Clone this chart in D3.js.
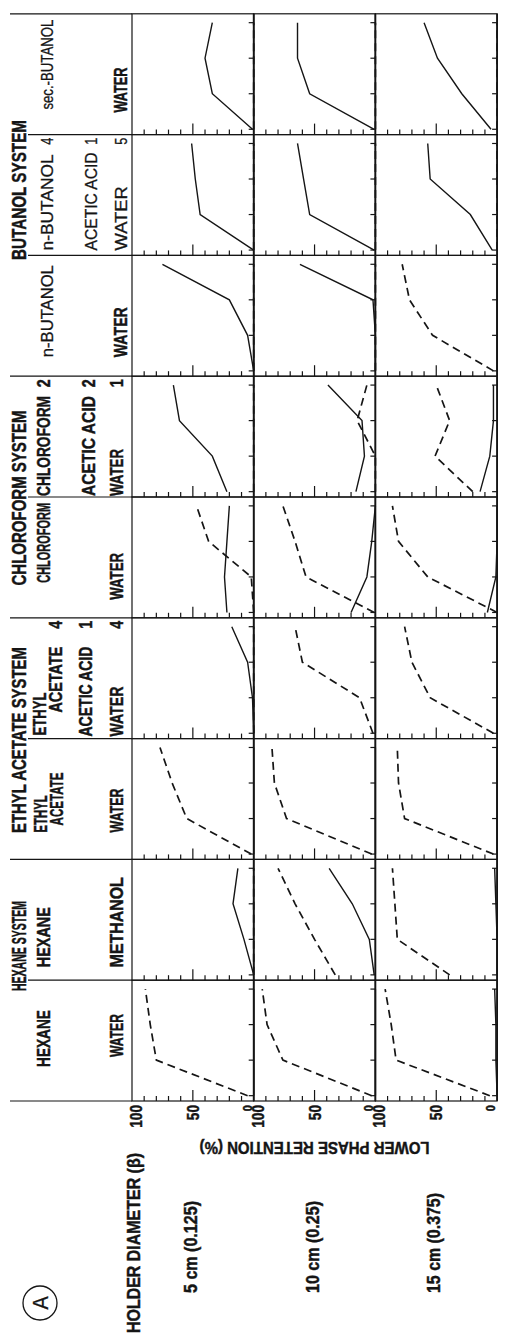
<!DOCTYPE html>
<html>
<head>
<meta charset="utf-8">
<script src="https://cdn.jsdelivr.net/npm/d3@7"></script>
<style>
  body { margin: 0; background: #fff; }
  text { font-family: "Liberation Sans", Arial, sans-serif; fill: #151515; }
</style>
</head>
<body>
<svg id="fig"></svg>
<script>
// x values: revolution speed at which retention was measured
const speeds = [200, 400, 600, 800];
const holderLabels = ["5 cm (0.125)", "10 cm (0.25)", "15 cm (0.375)"];
const retTicks = [100, 50, 0];

// lower phase retention (%) per column, per holder (5, 10, 15 cm), at each speed
const solidRet = [
  [[0, 0, 0, 0], [0, 0, 0, 0], [0, 1, 1, 2]],          // hexane / water
  [[0, 8, 17, 13], [1, 5, 19, 38], [0, 0, 1, 2]],      // hexane / methanol
  [[0, 0, 0, 0], [0, 0, 0, 0], [0, 0, 0, 0]],          // ethyl acetate / water
  [[0, 1, 5, 18], [0, 0, 0, 0], [0, 0, 0, 0]],         // ethyl acetate / acetic acid / water
  [[22, 24, 22, 20], [20, 7, 3, 0], [8, 1, 0, 0]],     // chloroform / water
  [[22, 34, 61, 66], [16, 9, 11, 39], [14, 6, 3, 3]],  // chloroform / acetic acid / water
  [[0, 5, 20, 75], [0, 0, 2, 62], [0, 0, 0, 0]],       // n-butanol / water
  [[0, 44, 48, 51], [1, 54, 59, 64], [4, 22, 55, 57]], // n-butanol / acetic acid / water
  [[1, 34, 40, 34], [1, 54, 64, 64], [5, 29, 49, 60]]  // sec-butanol / water
];
const dashedRet = [
  [[5, 80, 85, 89], [3, 76, 89, 93], [6, 83, 87, 92]],
  [[0, 0, 0, 0], [33, 50, 66, 80], [39, 82, 84, 86]],
  [[2, 55, 67, 77], [3, 73, 83, 85], [3, 76, 81, 82]],
  [[0, 0, 0, 0], [2, 13, 60, 66], [3, 55, 70, 76]],
  [[0, 2, 37, 47], [1, 57, 66, 76], [0, 57, 81, 86]],
  [[0, 0, 0, 0], [0, 0, 15, 7], [20, 51, 39, 50]],
  [[0, 0, 0, 0], [0, 0, 0, 0], [3, 53, 72, 78]],
  [[0, 0, 0, 0], [0, 0, 0, 0], [0, 0, 0, 0]],
  [[0, 0, 0, 0], [0, 0, 0, 0], [0, 0, 0, 0]]
];

// header texts
const systemNames = ["HEXANE SYSTEM", "ETHYL ACETATE SYSTEM", "CHLOROFORM SYSTEM", "BUTANOL SYSTEM"];
const systemEdges = [0, 2, 4, 6, 9];
// [text, column, offset from column left, baseline, length, weight]
const headLabels = [
  ["HEXANE", 0, 34, 50, 57, "bold"], ["WATER", 0, 44, 123, 43, "bold"],
  ["HEXANE", 1, 13, 50, 60, "bold"], ["METHANOL", 1, 13, 123, 90, "bold"],
  ["ETHYL", 2, 27, 47, 37, "bold"], ["ACETATE", 2, 34, 63, 53, "bold"], ["WATER", 2, 27, 123, 44, "bold"],
  ["ETHYL", 3, 3, 46, 43, "bold"], ["ACETATE", 3, 26, 62, 66, "bold"],
  ["ACETIC ACID", 3, 2, 92, 90, "bold"], ["WATER", 3, 2, 123, 50, "bold"],
  ["CHLOROFORM", 4, 35, 50, 80, "bold"], ["WATER", 4, 18, 123, 47, "bold"],
  ["CHLOROFORM", 5, 1, 50, 100, "bold"], ["ACETIC ACID", 5, 1, 95, 100, "bold"], ["WATER", 5, 1, 123, 47, "bold"],
  ["n-BUTANOL", 6, 19, 53, 92, "normal"], ["WATER", 6, 19, 127, 50, "bold"],
  ["n-BUTANOL", 7, 5, 53, 96, "normal"], ["ACETIC ACID", 7, 5, 97, 98, "normal"], ["WATER", 7, 5, 127, 64, "normal"],
  ["sec.-BUTANOL", 8, 25, 53, 90, "normal"], ["WATER", 8, 22, 127, 45, "bold"]
];
// volume ratios: [column, ratio values, baselines, weight]
const ratios = [
  [3, [4, 1, 4], [62, 92, 123], "bold"],
  [5, [2, 2, 1], [50, 95, 123], "bold"],
  [7, [4, 1, 5], [53, 97, 127], "normal"]
];

// figure is drawn upright (1334 x 505) and turned a quarter turn
const W = 1334, H = 505;
const plotX0 = 233, colW = 120.8, plotY0 = 132, rowH = 121.7;

const svg = d3.select("#fig").attr("width", H).attr("height", W);
const fig = svg.append("g").attr("transform", `translate(0,${W}) rotate(-90)`);

const x = d3.scaleLinear().domain([170, 850]).range([0, colW]);
const y = d3.scaleLinear().domain([0, 100]).range([rowH, 0]);

function label(g, px, py, str, o = {}) {
  const w = o.weight || "bold";
  const t = g.append("text")
    .attr("x", px).attr("y", py)
    .attr("font-size", o.size || 19)
    .attr("font-weight", w)
    .attr("text-anchor", o.anchor || "start")
    .attr("stroke", "#151515")
    .attr("stroke-width", w === "bold" ? 0.45 : 0.3)
    .text(str);
  if (o.rotate) t.attr("transform", `rotate(${o.rotate},${px},${py})`);
  const len = o.len || t.node().getComputedTextLength() * (o.sx || 0.6);
  t.attr("textLength", len).attr("lengthAdjust", "spacingAndGlyphs");
  return t;
}

const line = d3.line().x((d, i) => x(speeds[i])).y(d => y(d));

// panels
for (let c = 0; c < 9; c++) {
  for (let r = 0; r < 3; r++) {
    const p = fig.append("g")
      .attr("transform", `translate(${plotX0 + c * colW},${plotY0 + r * rowH})`);

    p.append("rect").attr("width", colW).attr("height", rowH)
      .attr("fill", "none").attr("stroke", "#151515").attr("stroke-width", 1.2);
    p.append("line").attr("x1", 0).attr("x2", colW).attr("y1", rowH).attr("y2", rowH)
      .attr("stroke", "#151515").attr("stroke-width", 1.8);

    // retention ticks
    p.selectAll(".yt").data(d3.range(10, 100, 10)).enter().append("line")
      .attr("x1", 0).attr("x2", d => d === 50 ? 11 : 5)
      .attr("y1", d => y(d)).attr("y2", d => y(d))
      .attr("stroke", "#151515").attr("stroke-width", 1.2);
    // speed ticks
    p.selectAll(".xt").data(speeds).enter().append("line")
      .attr("x1", d => x(d)).attr("x2", d => x(d))
      .attr("y1", rowH).attr("y2", rowH - 5)
      .attr("stroke", "#151515").attr("stroke-width", 1.2);

    p.append("path").datum(dashedRet[c][r]).attr("d", line)
      .attr("fill", "none").attr("stroke", "#151515").attr("stroke-width", 1.7)
      .attr("stroke-dasharray", "8,5");
    p.append("path").datum(solidRet[c][r]).attr("d", line)
      .attr("fill", "none").attr("stroke", "#151515").attr("stroke-width", 1.4);
  }
}

// retention tick labels and axis title
for (let r = 0; r < 3; r++) {
  const top = plotY0 + r * rowH;
  retTicks.forEach(v => {
    const py = top + y(v) + (v === 100 ? 10 : v === 0 ? -2 : 6);
    label(fig, plotX0 - 4, py, String(v), {anchor: "end", size: v === 0 ? 13 : 16, sx: 0.85});
  });
}
label(fig, 192, plotY0 + 1.5 * rowH, "LOWER PHASE RETENTION (%)", {anchor: "middle", rotate: -90, size: 17, len: 230});

// holder diameter labels
label(fig, 1, 140, "HOLDER DIAMETER (β)", {size: 19, len: 180});
holderLabels.forEach((s, i) => {
  label(fig, 41, plotY0 + i * rowH + 65, s, {size: 18, len: i === 2 ? 100 : 92});
});

// circled A
fig.append("circle").attr("cx", 31).attr("cy", 40).attr("r", 17)
  .attr("fill", "none").attr("stroke", "#151515").attr("stroke-width", 1.3);
label(fig, 31, 48, "A", {anchor: "middle", size: 22, weight: "normal", sx: 0.9});

// header separators
for (let c = 0; c <= 9; c++) {
  const xc = plotX0 + c * colW;
  fig.append("line").attr("x1", xc).attr("x2", xc)
    .attr("y1", systemEdges.includes(c) ? 10 : 28).attr("y2", plotY0)
    .attr("stroke", "#151515").attr("stroke-width", 1.2);
}

// system names
const sysLen = [90, 186, 175, 140];
const sysCenter = [388, 594, 836, 1144];
systemNames.forEach((s, i) => {
  label(fig, sysCenter[i], 26, s, {anchor: "middle", size: 20, len: sysLen[i]});
});

// solvent names and ratios
headLabels.forEach(([s, c, dx, by, len, w]) => {
  label(fig, plotX0 + c * colW + dx, by, s, {size: w === "bold" ? 19 : 16, len: len, weight: w});
});
ratios.forEach(([c, vals, bys, w]) => {
  vals.forEach((v, i) => {
    label(fig, plotX0 + (c + 1) * colW - 3, bys[i], String(v), {anchor: "end", size: w === "bold" ? 19 : 17, weight: w, sx: 0.75});
  });
});
</script>
</body>
</html>
